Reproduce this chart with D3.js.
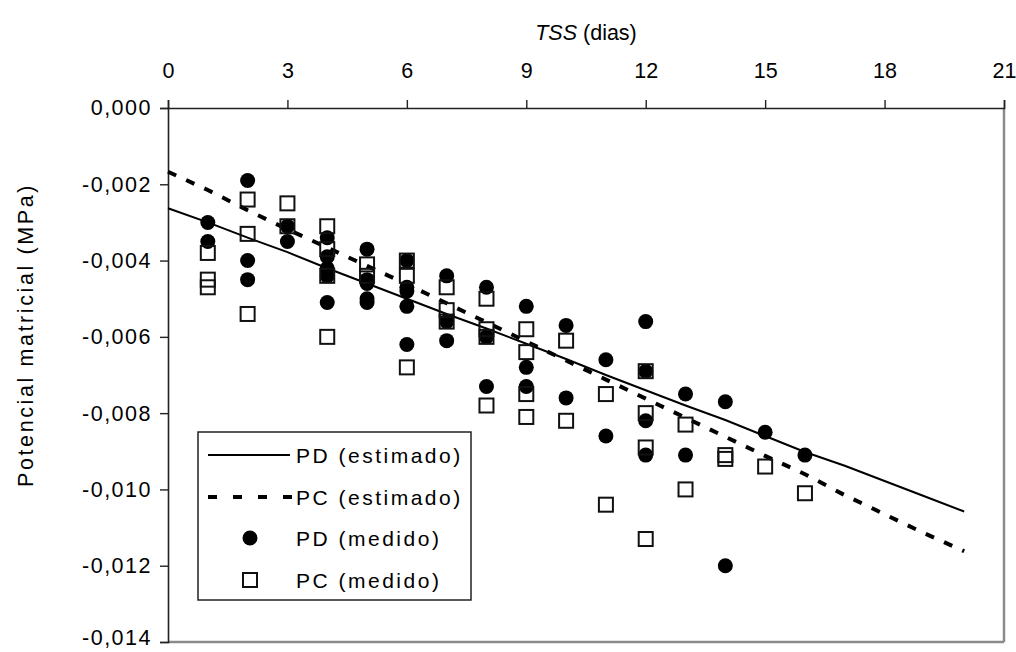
<!DOCTYPE html>
<html><head><meta charset="utf-8">
<script src="https://cdn.jsdelivr.net/npm/d3@7"></script>
<style>body{margin:0;background:#fff}svg{display:block;font-family:"Liberation Sans",Arial,sans-serif}</style>
</head><body><svg id="c" width="1016" height="652"></svg>
<script>
// ---- data ----
const xTicks = [0, 3, 6, 9, 12, 15, 18, 21];
const yTicks = [0, -0.002, -0.004, -0.006, -0.008, -0.010, -0.012, -0.014];
const estDays = [0,1,2,3,4,5,6,7,8,9,10,11,12,13,14,15,16,17,18,19,20];
const pdEstimado = [-0.00263,-0.00300,-0.00340,-0.00378,-0.00420,-0.00460,-0.00500,-0.00540,-0.00578,-0.00618,-0.00658,-0.00700,-0.00740,-0.00780,-0.00818,-0.00860,-0.00902,-0.00938,-0.00978,-0.01018,-0.01058];
const pcEstimado = [-0.00167,-0.00215,-0.00268,-0.00318,-0.00366,-0.00414,-0.00462,-0.00512,-0.00562,-0.00612,-0.00662,-0.00712,-0.00762,-0.00812,-0.00862,-0.00912,-0.00960,-0.01015,-0.01065,-0.01115,-0.01162];
const pdMedidoDays = [1,1, 2,2,2, 3,3, 4,4,4,4,4, 5,5,5,5,5, 6,6,6,6,6, 7,7,7, 8,8,8, 9,9,9, 10,10, 11,11, 12,12,12,12, 13,13, 14,14, 15, 16];
const pdMedido = [-0.0030,-0.0035, -0.0019,-0.0040,-0.0045, -0.0031,-0.0035, -0.0034,-0.0039,-0.0042,-0.0044,-0.0051, -0.0037,-0.0045,-0.0046,-0.0050,-0.0051, -0.0040,-0.0047,-0.0048,-0.0052,-0.0062, -0.0044,-0.0056,-0.0061, -0.0047,-0.0060,-0.0073, -0.0052,-0.0068,-0.0073, -0.0057,-0.0076, -0.0066,-0.0086, -0.0056,-0.0069,-0.0082,-0.0091, -0.0075,-0.0091, -0.0077,-0.0120, -0.0085, -0.0091];
const pcMedidoDays = [1,1,1, 2,2,2, 3,3, 4,4,4,4, 5,5, 6,6,6, 7,7,7, 8,8,8,8, 9,9,9,9, 10,10, 11,11, 12,12,12,12, 13,13, 14,14, 15, 16];
const pcMedido = [-0.0038,-0.0045,-0.0047, -0.0024,-0.0033,-0.0054, -0.0025,-0.0031, -0.0031,-0.0037,-0.0044,-0.0060, -0.0041,-0.0044, -0.0040,-0.0044,-0.0068, -0.0047,-0.0053,-0.0056, -0.0050,-0.0058,-0.0060,-0.0078, -0.0058,-0.0064,-0.0075,-0.0081, -0.0061,-0.0082, -0.0075,-0.0104, -0.0069,-0.0080,-0.0089,-0.0113, -0.0083,-0.0100, -0.0091,-0.0092, -0.0094, -0.0101];
const legendLabels = ["PD (estimado)", "PC (estimado)", "PD (medido)", "PC (medido)"];

// ---- chart ----
const svg = d3.select("#c");
const L = 168, R = 1004, T = 108, B = 642;
const x = d3.scaleLinear().domain([0, 21]).range([L, R]);
const y = d3.scaleLinear().domain([0, -0.014]).range([T, B]);
const fmt = v => (v === 0 ? "0,000" : d3.format(".3f")(v).replace("−", "-").replace(".", ","));

// border (right & bottom lighter)
svg.append("line").attr("x1", R).attr("x2", R).attr("y1", T).attr("y2", B).attr("stroke", "#8a8a8a").attr("stroke-width", 2.5);
svg.append("line").attr("x1", L).attr("x2", R).attr("y1", B).attr("y2", B).attr("stroke", "#8a8a8a").attr("stroke-width", 2.5);

const xAxis = svg.append("g").attr("transform", `translate(0,${T})`)
  .call(d3.axisTop(x).tickValues(xTicks).tickSize(8).tickPadding(22).tickFormat(d3.format("d")));
const yAxis = svg.append("g").attr("transform", `translate(${L},0)`)
  .call(d3.axisLeft(y).tickValues(yTicks).tickSize(8).tickPadding(8).tickFormat(fmt));
[xAxis, yAxis].forEach(g => {
  g.select(".domain").attr("stroke", "#222").attr("stroke-width", 1.6);
  g.selectAll(".tick line").attr("stroke", "#222").attr("stroke-width", 1.4);
  g.selectAll("text").attr("fill", "#000").style("font-size", "21.5px").style("font-family", "Liberation Sans, Arial, sans-serif");
});
yAxis.selectAll("text").style("letter-spacing", "1.5px");
// keep the lowest label inside the picture
yAxis.selectAll(".tick").filter(d => d === -0.014).select("text").attr("dy", "0.1em");

// titles
const t = svg.append("text").attr("x", 586).attr("y", 40).attr("text-anchor", "middle")
  .style("font-size", "21.5px").attr("fill", "#000");
t.append("tspan").style("font-style", "italic").text("TSS");
t.append("tspan").text(" (dias)");
svg.append("text").attr("transform", "translate(33,335) rotate(-90)").attr("text-anchor", "middle")
  .style("font-size", "21.5px").style("letter-spacing", "2.6px").attr("fill", "#000").text("Potencial matricial (MPa)");

// lines
const line = d3.line().x((d, i) => x(estDays[i])).y(d => y(d));
svg.append("path").datum(pdEstimado).attr("d", line).attr("fill", "none").attr("stroke", "#000").attr("stroke-width", 2);
svg.append("path").datum(pcEstimado).attr("d", line).attr("fill", "none").attr("stroke", "#000").attr("stroke-width", 4).attr("stroke-dasharray", "9,11");

// points
svg.append("g").selectAll("circle").data(pdMedido).join("circle")
  .attr("cx", (d, i) => x(pdMedidoDays[i])).attr("cy", d => y(d)).attr("r", 7.5).attr("fill", "#000");
const s = 14;
svg.append("g").selectAll("rect").data(pcMedido).join("rect")
  .attr("x", (d, i) => x(pcMedidoDays[i]) - s / 2).attr("y", d => y(d) - s / 2)
  .attr("width", s).attr("height", s).attr("fill", "none").attr("stroke", "#111").attr("stroke-width", 2);

// legend
const lg = svg.append("g");
lg.append("rect").attr("x", 198).attr("y", 432).attr("width", 273).attr("height", 168).attr("fill", "#fff").attr("stroke", "#222").attr("stroke-width", 1.5);
const ly = [455, 497, 538, 580];
lg.append("line").attr("x1", 208).attr("x2", 290).attr("y1", ly[0]).attr("y2", ly[0]).attr("stroke", "#000").attr("stroke-width", 2);
lg.append("line").attr("x1", 208).attr("x2", 292).attr("y1", ly[1]).attr("y2", ly[1]).attr("stroke", "#000").attr("stroke-width", 4).attr("stroke-dasharray", "9,16");
lg.append("circle").attr("cx", 250).attr("cy", ly[2]).attr("r", 7.5).attr("fill", "#000");
lg.append("rect").attr("x", 250 - s / 2).attr("y", ly[3] - s / 2).attr("width", s).attr("height", s).attr("fill", "none").attr("stroke", "#111").attr("stroke-width", 2);
lg.selectAll("text.l").data(legendLabels).join("text").attr("class", "l")
  .attr("x", 296).attr("y", (d, i) => ly[i]).attr("dy", "0.36em")
  .style("font-size", "21px").style("letter-spacing", "2.5px").attr("fill", "#000").text(d => d);
</script></body></html>
